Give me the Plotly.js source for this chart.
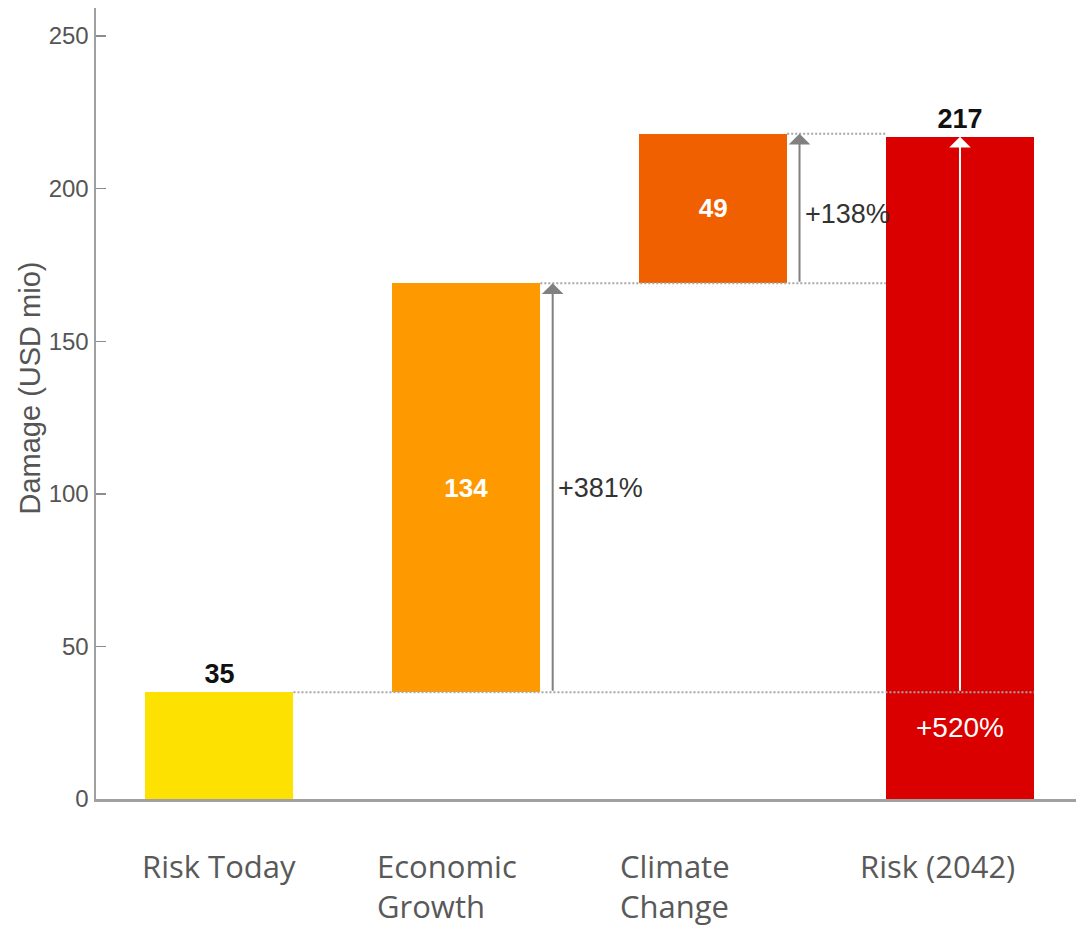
<!DOCTYPE html>
<html>
<head>
<meta charset="utf-8">
<script src="https://cdn.plot.ly/plotly-3.0.1.min.js"></script>
<style>
  html, body { margin: 0; padding: 0; background: #fff; }
  #chart { width: 1076px; height: 927px; }
</style>
</head>
<body>
<div id="chart"></div>
<script>
// Damage waterfall: today's risk, the two drivers, and the 2042 total
const categories = ['Risk Today', 'Economic<br>Growth', 'Climate<br>Change', 'Risk (2042)'];
const riskToday = 35;
const drivers = [134, 49];          // economic growth, climate change
const riskFuture = 217;
const changeLabels = ['+381%', '+138%', '+520%'];
const yTitle = 'Damage (USD mio)';
const barColors = ['#FDE100', '#FE9A00', '#F06000', '#DA0000'];

// label nudges for the category names (pixels)
const catShift = [-78, -90, -94, -101];
const catLineGap = 40;

const barWidth = 0.6;
const arrowGap = 0.05;

// bar geometry: heights and bases built from the values
const heights = [riskToday, drivers[0], drivers[1], riskFuture];
const bases = [0, riskToday, riskToday + drivers[0], 0];
const tops = heights.map((h, i) => h + bases[i]);
const xs = categories.map((_, i) => i);

const bars = {
  type: 'bar',
  x: xs,
  y: heights,
  base: bases,
  width: barWidth,
  marker: { color: barColors, line: { width: 0 } },
  text: heights.map(v => '<b>' + v + '</b>'),
  textposition: ['outside', 'inside', 'inside', 'outside'],
  insidetextanchor: 'middle',
  textfont: {
    family: 'Liberation Sans, Arial, sans-serif',
    size: [27, 26, 26, 27],
    color: ['#111111', '#ffffff', '#ffffff', '#111111']
  },
  constraintext: 'none',
  cliponaxis: false,
  hoverinfo: 'skip',
  showlegend: false
};

const halfW = barWidth / 2;
const dotted = { color: '#a6a6a6', width: 2, dash: '2px,2px' };

// connector lines between bar levels
const shapes = [
  { type: 'line', xref: 'x', yref: 'y', x0: 0 + halfW, x1: 3 + halfW, y0: tops[0], y1: tops[0], line: dotted, layer: 'above' },
  { type: 'line', xref: 'x', yref: 'y', x0: 1 + halfW, x1: 3 - halfW, y0: tops[1], y1: tops[1], line: dotted, layer: 'above' },
  { type: 'line', xref: 'x', yref: 'y', x0: 2 + halfW, x1: 3 - halfW, y0: tops[2], y1: tops[2], line: dotted, layer: 'above' }
];

const arrow = (x, yFrom, yTo, color) => ({
  xref: 'x', yref: 'y', axref: 'x', ayref: 'y',
  x: x, y: yTo, ax: x, ay: yFrom,
  text: '', showarrow: true,
  arrowhead: 1, arrowsize: 1.8, arrowwidth: 2, arrowcolor: color,
  standoff: 0, startstandoff: 0
});

const pctFont = { family: 'Liberation Sans, Arial, sans-serif', size: 27, color: '#333333' };

const annotations = [
  arrow(1 + halfW + arrowGap, bases[1], tops[1], '#808080'),
  arrow(2 + halfW + arrowGap, bases[2], tops[2], '#808080'),
  arrow(3, tops[0], riskFuture, '#ffffff'),
  {
    xref: 'x', yref: 'y', x: 1 + halfW + arrowGap, y: (bases[1] + tops[1]) / 2,
    xanchor: 'left', yanchor: 'middle', xshift: 3,
    text: changeLabels[0], showarrow: false, font: pctFont
  },
  {
    xref: 'x', yref: 'y', x: 2 + halfW + arrowGap, y: (bases[2] + tops[2]) / 2,
    xanchor: 'left', yanchor: 'middle', xshift: 3, yshift: -5,
    text: changeLabels[1], showarrow: false, font: pctFont
  },
  {
    xref: 'x', yref: 'y', x: 3, y: riskToday,
    xanchor: 'center', yanchor: 'top', yshift: -18,
    text: changeLabels[2], showarrow: false,
    font: { family: 'Liberation Sans, Arial, sans-serif', size: 28, color: '#ffffff' }
  },
  // vertical axis title
  {
    xref: 'paper', yref: 'paper', x: 0, y: 0.5,
    xanchor: 'center', yanchor: 'middle', xshift: -67, yshift: 15,
    textangle: -90, text: yTitle, showarrow: false,
    font: { family: 'Liberation Sans, Arial, sans-serif', size: 29, color: '#555555' }
  }
];

// category names under the axis, one annotation per text line
categories.forEach((c, i) => {
  c.split('<br>').forEach((line, k) => {
    annotations.push({
      xref: 'x', yref: 'paper', x: i, y: 0,
      xanchor: 'left', yanchor: 'top', align: 'left', borderpad: 0,
      xshift: catShift[i], yshift: -45 - k * catLineGap,
      text: line, showarrow: false,
      font: { family: 'Open Sans, Noto Sans, sans-serif', size: 31, color: '#595959' }
    });
  });
});

const layout = {
  width: 1076,
  height: 927,
  margin: { l: 96, r: 0, t: 8, b: 128, pad: 0 },
  paper_bgcolor: '#ffffff',
  plot_bgcolor: '#ffffff',
  showlegend: false,
  bargap: 0,
  xaxis: {
    type: 'linear',
    range: [-0.5, 3.47],
    showticklabels: false,
    ticks: '',
    showgrid: false,
    zeroline: false,
    showline: true,
    linecolor: '#a0a0a0',
    linewidth: 2.5,
    fixedrange: true
  },
  yaxis: {
    range: [0, 259.2],
    tick0: 0,
    dtick: 50,
    ticks: 'inside',
    ticklen: 10,
    tickwidth: 1.5,
    tickcolor: '#8c8c8c',
    showgrid: false,
    zeroline: false,
    showline: true,
    linecolor: '#a0a0a0',
    linewidth: 2.5,
    tickfont: { family: 'Liberation Sans, Arial, sans-serif', size: 24, color: '#555555' },
    fixedrange: true
  },
  shapes: shapes,
  annotations: annotations
};

Plotly.newPlot('chart', [bars], layout, { displayModeBar: false, staticPlot: true });
</script>
</body>
</html>
